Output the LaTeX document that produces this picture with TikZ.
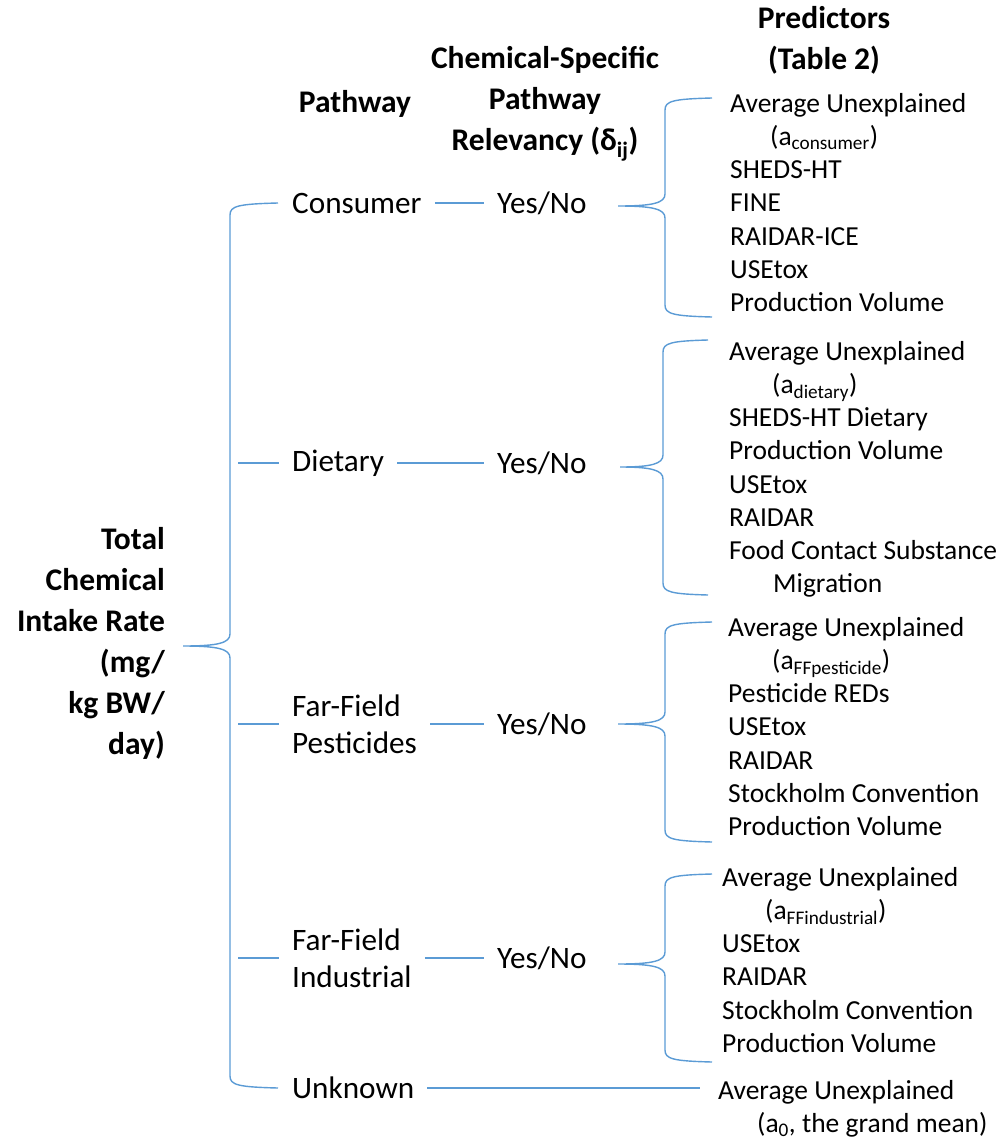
\documentclass[tikz,border=0pt]{standalone}
\usepackage{fontspec}
\setmainfont{Carlito}
\definecolor{brline}{RGB}{91,155,213}

\newcommand{\listfont}{\fontsize{27.5}{33.2}\selectfont}
\newcommand{\pwfont}{\fontsize{31.2}{37}\selectfont}
\newcommand{\headfont}{\fontsize{31.5}{41}\selectfont\bfseries}
% curly brace opening right: spine x, hook x, top y, bottom y, tip x, tip y
\newcommand{\pwbrace}[6]{%
  \draw[link] (#2,#3) .. controls (#1+8,#3+1) and (#1,#3+3) .. (#1,#3+12)
    -- (#1,#6-12) .. controls (#1,#6-3) and (#1-12,#6) .. (#5,#6)
    .. controls (#1-12,#6) and (#1,#6+3) .. (#1,#6+12)
    -- (#1,#4-12) .. controls (#1,#4-3) and (#1+8,#4-1) .. (#2,#4);}

\begin{document}
\begin{tikzpicture}[x=1pt, y=-1pt,
    link/.style={draw=brline, line width=1.4pt},
    head/.style={font=\headfont, inner sep=0pt},
    pathw/.style={anchor=west, inner xsep=13pt, inner ysep=0pt, font=\pwfont},
    pred/.style={anchor=north west, align=left, inner sep=0pt, font=\listfont}
]
\useasboundingbox (0,0) rectangle (1005,1140);

% headings
\node[head, anchor=east, align=right] (total) at (165,643)
    {Total\\Chemical\\Intake Rate\\(mg/\\kg BW/\\day)};
\node[head] (hpath) at (355,104) {Pathway};
\node[head, align=center] (hrel) at (545,104)
    {Chemical-Specific\\Pathway\\Relevancy (δ\textsubscript{ij})};
\node[head, align=center] (hpred) at (824,40) {Predictors\\(Table 2)};

% pathways
\node[pathw] (cons) at (279,203) {Consumer};
\node[pathw] (diet) at (279,463) {Dietary};
\node[pathw, align=left] (pest) at (279,724) {Far-Field\\Pesticides};
\node[pathw, align=left] (ind) at (279,958) {Far-Field\\Industrial};
\node[pathw] (unk) at (279,1088) {Unknown};

% relevancy
\node[pathw] (cyn) at (484,203) {Yes/No};
\node[pathw] (dyn) at (484,463) {Yes/No};
\node[pathw] (pyn) at (484,724) {Yes/No};
\node[pathw] (iyn) at (484,958) {Yes/No};

% predictors
\node[pred] (pcons) at (730,93) {Average Unexplained\\
    \hspace*{40pt}(a\textsubscript{consumer})\\SHEDS-HT\\FINE\\RAIDAR-ICE\\
    USEtox\\Production Volume};
\node[pred] (pdiet) at (729,341) {Average Unexplained\\
    \hspace*{43pt}(a\textsubscript{dietary})\\SHEDS-HT Dietary\\Production Volume\\
    USEtox\\RAIDAR\\Food Contact Substance\\\hspace*{44pt}Migration};
\node[pred] (ppest) at (728,617) {Average Unexplained\\
    \hspace*{44pt}(a\textsubscript{FFpesticide})\\Pesticide REDs\\USEtox\\RAIDAR\\
    Stockholm Convention\\Production Volume};
\node[pred] (pind) at (722,867) {Average Unexplained\\
    \hspace*{43pt}(a\textsubscript{FFindustrial})\\USEtox\\RAIDAR\\
    Stockholm Convention\\Production Volume};
\node[pred] (punk) at (718,1080) {Average Unexplained\\
    \hspace*{39pt}(a\textsubscript{0}, the grand mean)};
\coordinate (uend) at (700,1088);

% connectors
\draw[link] (238,463) -- (diet);
\draw[link] (238,724) -- (pest);
\draw[link] (238,958) -- (ind);
\draw[link] (cons) -- (cyn);
\draw[link] (diet) -- (dyn);
\draw[link] (pest) -- (pyn);
\draw[link] (ind) -- (iyn);
\draw[link] (unk) -- (uend);

% braces
\pwbrace{230}{278}{203}{1088}{183}{646}
\pwbrace{665}{712}{98}{317}{618}{206}
\pwbrace{663}{708}{340}{595}{620}{467}
\pwbrace{665}{712}{622}{842}{618}{724}
\pwbrace{665}{712}{874}{1062}{618}{964}
\end{tikzpicture}
\end{document}
